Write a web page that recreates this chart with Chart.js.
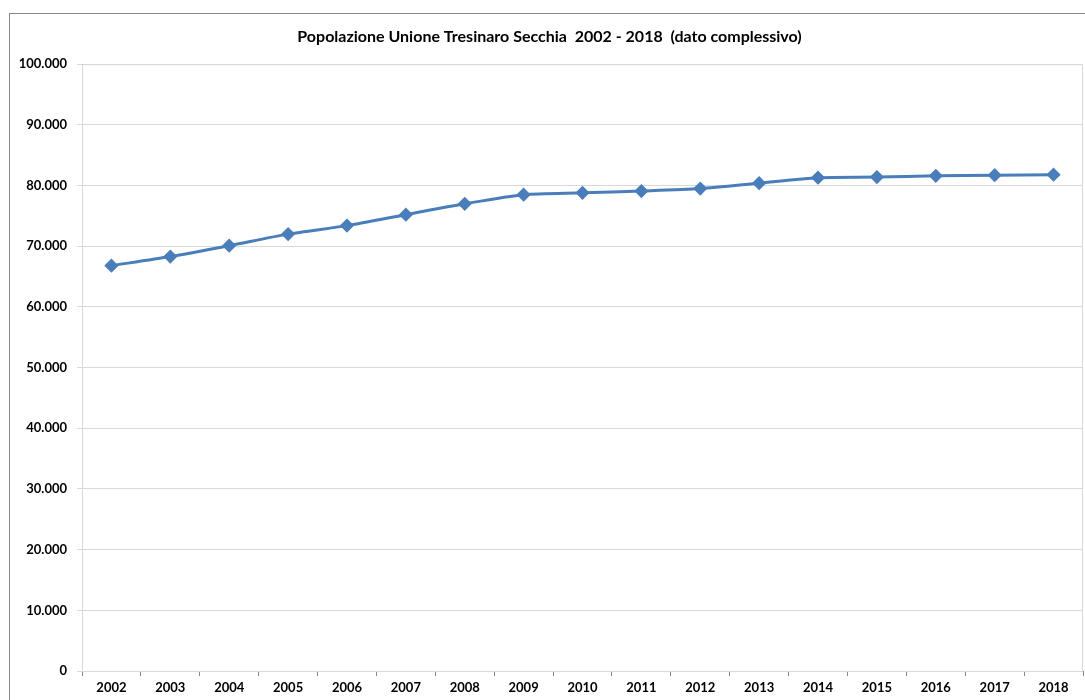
<!DOCTYPE html>
<html>
<head>
<meta charset="utf-8">
<script src="https://cdn.jsdelivr.net/npm/chart.js@4/dist/chart.umd.min.js"></script>
<style>
    html, body { margin: 0; padding: 0; background: #fff; }
    #wrap { position: relative; width: 1085px; height: 700px; overflow: hidden; }
    #frame { position: absolute; left: 9px; top: 13px; width: 1100px; height: 720px; border: 1px solid #888; }
    #c { position: absolute; left: 0; top: 0; }
</style>
</head>
<body>
<div id="wrap">
    <div id="frame"></div>
    <canvas id="c" width="1091" height="700"></canvas>
</div>
<script>
// ─── DATA ─────────────────────────────────────────────────────────────────────
const years = ['2002', '2003', '2004', '2005', '2006', '2007', '2008', '2009', '2010',
    '2011', '2012', '2013', '2014', '2015', '2016', '2017', '2018'];
const population = [66800, 68300, 70100, 72000, 73400, 75200, 77000, 78500, 78800,
    79100, 79500, 80400, 81300, 81400, 81600, 81700, 81800];
const yTicks = [0, 10000, 20000, 30000, 40000, 50000, 60000, 70000, 80000, 90000, 100000];

const fmt = v => v === 0 ? '0' : v.toLocaleString('it-IT').replace(/\s/g, '.');

// plot area border (light gray, like Excel)
const plotBorder = {
    id: 'plotBorder',
    beforeDatasetsDraw(chart) {
        const { ctx, chartArea: a } = chart;
        ctx.save();
        ctx.strokeStyle = '#D9D9D9';
        ctx.lineWidth = 1;
        ctx.strokeRect(a.left + 0.5, a.top + 0.5, a.right - a.left - 1, a.bottom - a.top);
        ctx.restore();
    }
};

Chart.defaults.font.family = "Lato, 'Open Sans', sans-serif";
Chart.defaults.color = '#000';

new Chart(document.getElementById('c'), {
    type: 'line',
    data: {
        labels: years,
        datasets: [{
            data: population,
            borderColor: '#4A7EBB',
            backgroundColor: '#4A7EBB',
            borderWidth: 3,
            tension: 0.25,
            pointStyle: 'rectRot',
            pointRadius: 5,
            pointHoverRadius: 5,
            fill: false
        }]
    },
    options: {
        responsive: false,
        animation: false,
        layout: { padding: { left: 0, right: -8, top: 0, bottom: 0 } },
        plugins: {
            legend: { display: false },
            tooltip: { enabled: false },
            title: {
                display: true,
                text: 'Popolazione Unione Tresinaro Secchia  2002 - 2018  (dato complessivo)',
                font: { size: 16, weight: 'bold' },
                color: '#000',
                padding: { top: 27, bottom: 18 }
            }
        },
        scales: {
            x: {
                offset: true,
                grid: { offset: true, drawOnChartArea: false, drawTicks: true, tickLength: 5, color: '#868686' },
                border: { color: '#868686' },
                ticks: { font: { size: 13, weight: 'bold' }, maxRotation: 0, autoSkip: false, padding: 4 },
                afterFit: s => { s.height = 29; s.paddingLeft = 0; s.paddingRight = 0; }
            },
            y: {
                min: 0,
                max: 100000,
                afterBuildTicks: s => { s.ticks = yTicks.map(v => ({ value: v })); },
                grid: { color: '#D9D9D9', tickLength: 5 },
                border: { color: '#868686' },
                ticks: { font: { size: 13, weight: 'bold' }, padding: 10, callback: v => fmt(v) },
                afterFit: s => { s.width = 82; }
            }
        }
    },
    plugins: [plotBorder]
});
</script>
</body>
</html>
